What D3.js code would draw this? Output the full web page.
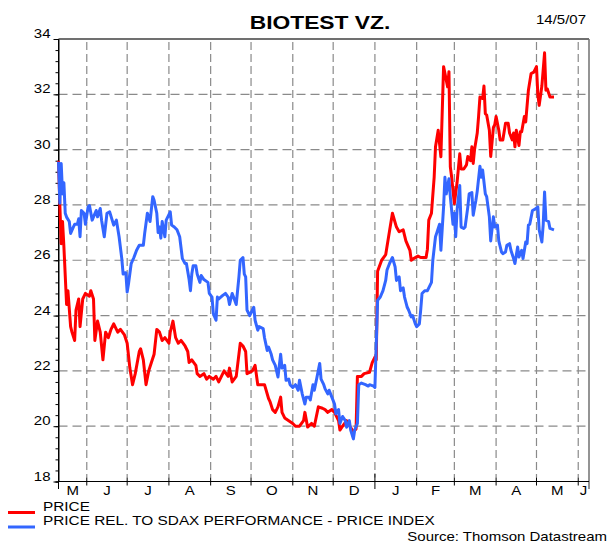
<!DOCTYPE html>
<html lang="en">
<head>
<meta charset="utf-8">
<title>Biotest VZ.</title>
<script src="https://d3js.org/d3.v7.js"></script>
<style>
  body { margin: 0; background: #fff; }
  text { font-family: "Liberation Sans", Arial, sans-serif; fill: #000; }
</style>
</head>
<body>
<script>

// data

var price = [
  ["2006-05-11",29.6],["2006-05-12",28.0],["2006-05-13",26.6],["2006-05-14",27.4],["2006-05-15",26.5],
  ["2006-05-17",24.4],["2006-05-18",24.9],["2006-05-20",23.6],["2006-05-21",23.4],["2006-05-23",23.1],
  ["2006-05-24",24.2],["2006-05-26",24.6],["2006-05-27",23.6],["2006-05-29",24.6],["2006-05-31",24.8],
  ["2006-06-03",24.7],["2006-06-04",24.9],["2006-06-06",24.6],["2006-06-07",23.1],["2006-06-09",23.8],
  ["2006-06-11",23.4],["2006-06-13",22.4],["2006-06-15",23.4],["2006-06-17",23.2],["2006-06-19",23.5],
  ["2006-06-21",23.7],["2006-06-24",23.4],["2006-06-26",23.5],["2006-06-29",23.3],["2006-07-01",23.0],
  ["2006-07-03",22.1],["2006-07-05",21.5],["2006-07-07",21.9],["2006-07-10",22.7],["2006-07-11",22.8],
  ["2006-07-13",22.4],["2006-07-15",21.5],["2006-07-17",22.0],["2006-07-19",22.3],["2006-07-21",22.6],
  ["2006-07-23",23.5],["2006-07-25",23.4],["2006-07-27",23.1],["2006-07-29",23.2],["2006-08-01",23.0],
  ["2006-08-02",23.4],["2006-08-04",23.8],["2006-08-06",23.2],["2006-08-08",23.0],["2006-08-10",23.1],
  ["2006-08-13",22.9],["2006-08-15",22.7],["2006-08-16",22.3],["2006-08-18",22.4],["2006-08-21",22.2],
  ["2006-08-22",21.9],["2006-08-24",21.8],["2006-08-27",21.9],["2006-08-29",21.7],["2006-08-31",21.8],
  ["2006-09-03",21.7],["2006-09-05",21.8],["2006-09-07",21.6],["2006-09-09",21.8],["2006-09-11",22.0],
  ["2006-09-14",21.8],["2006-09-15",22.1],["2006-09-17",21.6],["2006-09-20",21.8],["2006-09-23",23.0],
  ["2006-09-25",22.9],["2006-09-27",22.7],["2006-09-28",21.9],["2006-10-02",22.0],["2006-10-04",22.2],
  ["2006-10-06",21.5],["2006-10-09",21.5],["2006-10-11",21.5],["2006-10-14",21.0],["2006-10-15",20.9],
  ["2006-10-17",20.6],["2006-10-19",20.5],["2006-10-21",20.7],["2006-10-23",21.05],["2006-10-24",20.5],
  ["2006-10-26",20.3],["2006-10-29",20.2],["2006-11-01",20.1],["2006-11-03",20.0],["2006-11-06",20.0],
  ["2006-11-09",20.2],["2006-11-10",20.5],["2006-11-12",19.97],["2006-11-15",20.1],["2006-11-17",20.0],
  ["2006-11-20",20.7],["2006-11-23",20.65],["2006-11-25",20.6],["2006-11-27",20.5],["2006-11-30",20.6],
  ["2006-12-02",20.5],["2006-12-05",20.2],["2006-12-06",19.86],["2006-12-08",20.0],["2006-12-11",20.2],
  ["2006-12-14",19.95],["2006-12-16",19.8],["2006-12-18",19.9],["2006-12-19",21.8],["2006-12-22",21.8],
  ["2006-12-24",21.9],["2006-12-28",21.95],["2006-12-30",22.3],["2007-01-01",22.5],["2007-01-02",22.4],
  ["2007-01-03",25.6],["2007-01-06",26.0],["2007-01-09",26.2],["2007-01-12",27.1],["2007-01-14",27.7],
  ["2007-01-17",27.2],["2007-01-19",27.03],["2007-01-22",27.1],["2007-01-24",26.7],["2007-01-27",26.36],
  ["2007-01-28",26.0],["2007-01-30",26.07],["2007-02-02",26.15],["2007-02-04",26.1],["2007-02-08",26.1],
  ["2007-02-09",26.4],["2007-02-10",27.45],["2007-02-12",27.7],["2007-02-14",29.0],["2007-02-15",30.1],
  ["2007-02-17",30.7],["2007-02-19",29.74],["2007-02-21",33.0],["2007-02-24",32.27],["2007-02-25",32.82],
  ["2007-02-26",29.38],["2007-02-27",29.0],["2007-03-01",28.05],["2007-03-03",28.8],["2007-03-05",29.85],
  ["2007-03-06",29.3],["2007-03-08",29.3],["2007-03-10",29.45],["2007-03-11",29.75],["2007-03-13",29.6],
  ["2007-03-14",30.1],["2007-03-15",29.5],["2007-03-16",30.0],["2007-03-18",30.6],["2007-03-19",31.2],
  ["2007-03-20",31.9],["2007-03-22",31.85],["2007-03-23",32.3],["2007-03-24",31.3],["2007-03-25",31.25],
  ["2007-03-27",30.7],["2007-03-28",29.75],["2007-03-30",30.8],["2007-03-31",30.9],["2007-04-01",31.2],
  ["2007-04-03",30.7],["2007-04-04",30.35],["2007-04-06",30.35],["2007-04-08",30.95],["2007-04-10",30.95],
  ["2007-04-11",30.6],["2007-04-13",30.35],["2007-04-14",30.6],["2007-04-15",30.1],["2007-04-16",30.7],
  ["2007-04-18",30.15],["2007-04-19",30.65],["2007-04-20",30.65],["2007-04-22",31.2],["2007-04-23",31.0],
  ["2007-04-25",32.15],["2007-04-27",32.75],["2007-04-29",32.8],["2007-05-01",33.0],["2007-05-02",32.0],
  ["2007-05-03",31.6],["2007-05-05",32.3],["2007-05-07",33.5],["2007-05-08",32.15],["2007-05-09",32.2],
  ["2007-05-11",31.9],["2007-05-14",31.9]
];

var relSdax = [
  ["2006-05-11",29.56],["2006-05-12",28.06],["2006-05-13",29.5],["2006-05-14",28.4],["2006-05-15",28.8],
  ["2006-05-16",27.7],["2006-05-17",27.56],["2006-05-19",27.4],["2006-05-20",26.97],["2006-05-22",27.2],
  ["2006-05-23",27.3],["2006-05-25",27.3],["2006-05-26",27.5],["2006-05-27",26.85],["2006-05-28",27.8],
  ["2006-05-30",27.7],["2006-05-31",27.3],["2006-06-02",27.93],["2006-06-03",27.98],["2006-06-05",27.45],
  ["2006-06-06",27.57],["2006-06-08",27.8],["2006-06-09",27.57],["2006-06-11",27.87],["2006-06-12",27.45],
  ["2006-06-14",26.85],["2006-06-16",27.7],["2006-06-18",27.75],["2006-06-21",27.27],["2006-06-23",27.45],
  ["2006-06-25",26.85],["2006-06-27",26.06],["2006-06-28",25.5],["2006-06-30",25.55],["2006-07-01",24.85],
  ["2006-07-02",25.15],["2006-07-04",25.88],["2006-07-06",26.1],["2006-07-08",26.36],["2006-07-10",26.54],
  ["2006-07-13",26.54],["2006-07-14",26.97],["2006-07-16",27.7],["2006-07-18",27.4],["2006-07-20",28.3],
  ["2006-07-21",28.17],["2006-07-23",27.7],["2006-07-24",27.0],["2006-07-25",27.2],["2006-07-26",26.8],
  ["2006-07-27",27.4],["2006-07-29",26.85],["2006-07-30",27.45],["2006-08-02",27.75],["2006-08-03",27.27],
  ["2006-08-05",27.2],["2006-08-07",27.1],["2006-08-09",26.85],["2006-08-11",26.06],["2006-08-13",25.88],
  ["2006-08-14",25.88],["2006-08-16",25.3],["2006-08-17",24.9],["2006-08-18",25.5],["2006-08-19",25.8],
  ["2006-08-21",25.8],["2006-08-22",25.5],["2006-08-24",25.2],["2006-08-25",25.45],["2006-08-27",25.3],
  ["2006-08-30",25.2],["2006-08-31",24.8],["2006-09-02",24.67],["2006-09-03",24.07],["2006-09-05",23.83],
  ["2006-09-06",24.67],["2006-09-07",24.6],["2006-09-10",24.73],["2006-09-12",24.8],["2006-09-14",24.67],
  ["2006-09-15",24.4],["2006-09-17",24.8],["2006-09-18",24.67],["2006-09-20",24.4],["2006-09-22",25.4],
  ["2006-09-23",26.0],["2006-09-25",26.1],["2006-09-26",25.5],["2006-09-27",25.4],["2006-09-28",24.2],
  ["2006-09-30",24.0],["2006-10-02",24.2],["2006-10-03",24.3],["2006-10-04",23.83],["2006-10-06",23.47],
  ["2006-10-07",23.6],["2006-10-10",23.53],["2006-10-11",23.2],["2006-10-13",22.74],["2006-10-14",22.86],
  ["2006-10-16",22.6],["2006-10-17",22.4],["2006-10-19",22.2],["2006-10-21",21.78],["2006-10-23",22.6],
  ["2006-10-24",22.1],["2006-10-26",22.2],["2006-10-27",21.66],["2006-10-29",21.7],["2006-10-30",21.5],
  ["2006-11-01",21.4],["2006-11-03",21.5],["2006-11-05",21.3],["2006-11-06",21.66],["2006-11-08",21.17],
  ["2006-11-10",20.8],["2006-11-11",21.05],["2006-11-13",21.05],["2006-11-14",20.95],["2006-11-16",21.5],
  ["2006-11-17",21.3],["2006-11-19",21.78],["2006-11-21",22.27],["2006-11-22",21.7],["2006-11-24",21.5],
  ["2006-11-25",21.35],["2006-11-27",21.17],["2006-11-28",21.3],["2006-11-30",21.05],["2006-12-02",20.8],
  ["2006-12-03",20.45],["2006-12-05",20.6],["2006-12-06",20.1],["2006-12-08",20.35],["2006-12-10",20.2],
  ["2006-12-11",19.96],["2006-12-13",20.2],["2006-12-14",19.86],["2006-12-16",19.54],["2006-12-17",19.86],
  ["2006-12-19",20.1],["2006-12-20",21.5],["2006-12-22",21.56],["2006-12-25",21.5],["2006-12-27",21.45],
  ["2006-12-28",21.5],["2006-12-31",21.45],["2007-01-01",21.4],["2007-01-03",24.55],["2007-01-05",24.67],
  ["2007-01-07",24.9],["2007-01-09",25.27],["2007-01-10",25.65],["2007-01-12",25.9],["2007-01-14",26.1],
  ["2007-01-16",25.76],["2007-01-17",25.27],["2007-01-19",25.4],["2007-01-20",24.9],["2007-01-22",25.0],
  ["2007-01-23",24.67],["2007-01-25",24.3],["2007-01-26",24.2],["2007-01-28",23.95],["2007-01-29",24.0],
  ["2007-01-31",23.7],["2007-02-01",23.6],["2007-02-03",23.7],["2007-02-04",24.2],["2007-02-05",24.8],
  ["2007-02-07",24.9],["2007-02-09",24.9],["2007-02-12",25.2],["2007-02-13",26.0],["2007-02-15",26.85],
  ["2007-02-16",27.0],["2007-02-18",27.3],["2007-02-19",26.36],["2007-02-21",27.93],["2007-02-22",29.0],
  ["2007-02-23",28.4],["2007-02-25",28.95],["2007-02-26",28.3],["2007-02-28",27.3],["2007-03-01",27.7],
  ["2007-03-02",26.85],["2007-03-03",27.8],["2007-03-05",28.7],["2007-03-06",27.2],["2007-03-08",27.15],
  ["2007-03-09",27.2],["2007-03-11",27.93],["2007-03-12",28.4],["2007-03-14",28.45],["2007-03-15",27.63],
  ["2007-03-17",28.17],["2007-03-18",28.5],["2007-03-20",29.4],["2007-03-21",29.0],["2007-03-22",29.26],
  ["2007-03-24",28.4],["2007-03-25",28.3],["2007-03-27",27.57],["2007-03-28",26.7],["2007-03-30",27.57],
  ["2007-03-31",27.2],["2007-04-02",27.27],["2007-04-03",26.7],["2007-04-05",26.3],["2007-04-06",26.24],
  ["2007-04-08",26.3],["2007-04-09",26.54],["2007-04-11",26.6],["2007-04-12",26.36],["2007-04-14",26.06],
  ["2007-04-15",25.88],["2007-04-17",26.48],["2007-04-18",26.12],["2007-04-20",26.36],["2007-04-21",26.06],
  ["2007-04-23",26.66],["2007-04-24",26.6],["2007-04-25",27.27],["2007-04-26",27.3],["2007-04-28",27.8],
  ["2007-04-30",27.85],["2007-05-02",27.93],["2007-05-03",27.1],["2007-05-05",26.66],["2007-05-06",27.3],
  ["2007-05-07",28.47],["2007-05-08",27.45],["2007-05-10",27.4],["2007-05-11",27.15],["2007-05-14",27.1]
];

var yTicks = [18, 20, 22, 24, 26, 28, 30, 32, 34];
var monthLabels = ["M","J","J","A","S","O","N","D","J","F","M","A","M","J"];
var seriesNames = ["PRICE", "PRICE REL. TO SDAX PERFORMANCE - PRICE INDEX"];
var seriesColors = ["#ff0000", "#3366ff"];

// layout (plotTop etc., "top" is taken by window.top)

var w = 611, h = 544;
var plotLeft = 58.5, plotRight = 589, plotTop = 39, plotBottom = 481.5;
var stretch = 1.2;   // the original type is set wide

var parse = d3.timeParse("%Y-%m-%d");
var start = parse("2006-05-11"), end = parse("2007-06-09");

var xScale = d3.scaleTime().domain([start, end]).range([plotLeft, plotRight]);
var yScale = d3.scaleLinear().domain([18, 34]).range([plotBottom, plotTop]);

var svg = d3.select("body").append("svg")
    .attr("width", w)
    .attr("height", h);

function label(x, y, s, size, anchor, weight) {
  svg.append("text")
      .attr("transform", `translate(${x},${y}) scale(${stretch},1)`)
      .attr("text-anchor", anchor)
      .attr("font-size", size)
      .attr("font-weight", weight || "normal")
      .text(s);
}

// grid

var months = d3.timeMonth.range(d3.timeMonth.ceil(start), end);

svg.append("g").selectAll("line")
    .data(yTicks.filter(d => d > 18 && d < 34))
  .enter().append("line")
    .attr("x1", plotLeft).attr("x2", plotRight)
    .attr("y1", d => yScale(d)).attr("y2", d => yScale(d))
    .attr("stroke", "#8a8a8a").attr("stroke-width", 1.2)
    .attr("stroke-dasharray", "9,5");

svg.append("g").selectAll("line")
    .data(months)
  .enter().append("line")
    .attr("x1", d => xScale(d)).attr("x2", d => xScale(d))
    .attr("y1", plotTop + 3).attr("y2", plotBottom - 4)
    .attr("stroke", "#8a8a8a").attr("stroke-width", 1.2)
    .attr("stroke-dasharray", "8,4");

// frame

svg.append("line")
    .attr("x1", plotLeft).attr("x2", plotRight).attr("y1", plotTop).attr("y2", plotTop)
    .attr("stroke", "#707070").attr("stroke-width", 2);
svg.append("line")
    .attr("x1", plotRight).attr("x2", plotRight).attr("y1", plotTop).attr("y2", plotBottom + 7.5)
    .attr("stroke", "#707070").attr("stroke-width", 1.5);

// y axis: minor ticks every 0.4, labels above each major tick

svg.append("g")
    .attr("transform", `translate(${plotLeft},0)`)
    .call(d3.axisLeft(yScale).tickValues(d3.range(18, 34.01, 0.4)).tickSize(3).tickFormat(""))
    .call(g => g.selectAll("line").attr("stroke", "#000"));

svg.append("g")
    .attr("transform", `translate(${plotLeft},0)`)
    .call(d3.axisLeft(yScale).tickValues(yTicks).tickSize(5).tickFormat(""))
    .call(g => g.select(".domain").attr("stroke", "#000").attr("d", `M0,${plotTop}V${plotBottom + 7.5}`));

yTicks.forEach(d => label(plotLeft - 8, yScale(d) - 1, d, 12.5, "end"));

// x axis

svg.append("line")
    .attr("x1", plotLeft).attr("x2", plotRight).attr("y1", plotBottom).attr("y2", plotBottom)
    .attr("stroke", "#000");

svg.append("g").selectAll("line")
    .data(months)
  .enter().append("line")
    .attr("x1", d => xScale(d)).attr("x2", d => xScale(d))
    .attr("y1", d => d.getMonth() === 0 ? plotBottom - 8 : plotBottom - 4)
    .attr("y2", d => d.getMonth() === 0 ? plotBottom + 7.5 : plotBottom + 4)
    .attr("stroke", "#000");

var bounds = [start].concat(months, [end]);
monthLabels.forEach((m, i) => {
  var cx = (xScale(bounds[i]) + xScale(bounds[i + 1])) / 2;
  label(cx, plotBottom + 13, m, 12.5, "middle");
});

// lines

var line = d3.line()
    .x(d => xScale(parse(d[0])))
    .y(d => yScale(d[1]));

[price, relSdax].forEach((s, i) => {
  svg.append("path")
      .datum(s)
      .attr("d", line)
      .attr("fill", "none")
      .attr("stroke", seriesColors[i])
      .attr("stroke-width", 3)
      .attr("stroke-linejoin", "round");
});

// titles and legend

label(320, 29, "BIOTEST VZ.", 19, "middle", "bold");
label(586, 24, "14/5/07", 12.5, "end");

seriesNames.forEach((n, i) => {
  var y = 512.5 + i * 14.5;
  svg.append("line")
      .attr("x1", 8).attr("x2", 35).attr("y1", y).attr("y2", y)
      .attr("stroke", seriesColors[i]).attr("stroke-width", 3);
  label(43, y - 2, n, 12.8, "start");
});

label(607, 541, "Source: Thomson Datastream", 12.5, "end");

</script>
</body>
</html>
